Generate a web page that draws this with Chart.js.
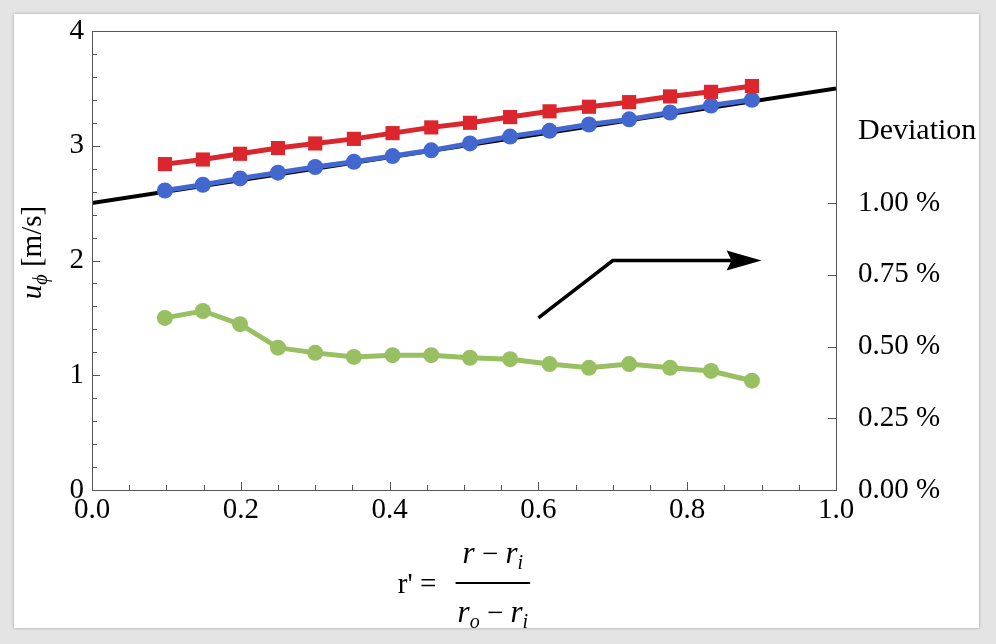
<!DOCTYPE html>
<html>
<head>
<meta charset="utf-8">
<script src="https://cdn.jsdelivr.net/npm/chart.js@4.4.0/dist/chart.umd.min.js"></script>
<style>
  html, body { margin: 0; padding: 0; background: #e4e4e4; width: 996px; height: 644px; overflow: hidden; }
  #panel { position: absolute; left: 14px; top: 14px; width: 965px; height: 614px; background: #fff; box-shadow: 0 0 3px rgba(0,0,0,0.3); }
  #panel canvas { display: block; }
</style>
</head>
<body>
<div id="panel"><canvas id="chart" width="965" height="614"></canvas></div>
<script>
// data
const rPrime = [0.098, 0.149, 0.199, 0.250, 0.300, 0.352, 0.404, 0.456, 0.508, 0.562, 0.615, 0.668, 0.722, 0.777, 0.832, 0.887];
const uRed = [2.84, 2.88, 2.93, 2.98, 3.02, 3.06, 3.11, 3.16, 3.20, 3.25, 3.30, 3.34, 3.38, 3.43, 3.47, 3.52];
const uBlue = [2.61, 2.66, 2.715, 2.765, 2.815, 2.86, 2.91, 2.96, 3.02, 3.08, 3.13, 3.185, 3.23, 3.29, 3.35, 3.40];
const deviation = [0.600, 0.624, 0.578, 0.496, 0.478, 0.464, 0.470, 0.470, 0.461, 0.456, 0.439, 0.426, 0.439, 0.426, 0.415, 0.381];
const analyticX = [0, 1];
const analyticU = [2.5, 3.5];
const devTicks = [0, 0.25, 0.5, 0.75, 1.0];
const arrowX = [0.6, 0.7, 0.9];
const arrowY = [1.5, 2.0, 2.0];

const SERIF = '"Liberation Serif", "Times New Roman", serif';
const FRAME = '#555';

function pts(xs, ys) {
    return xs.map((x, i) => ({ x: x, y: ys[i] }));
}

// draw a run of text pieces (font + vertical shift), returns width
function drawRuns(ctx, runs, x, y, measureOnly) {
    let cx = x;
    runs.forEach(r => {
        ctx.font = r.font;
        if (!measureOnly) ctx.fillText(r.t, cx, y + (r.dy || 0));
        cx += ctx.measureText(r.t).width;
    });
    return cx - x;
}

// keep tick label overhang from pushing the plot area around
function fixWidth(w) {
    return s => {
        s.width = w;
        s.paddingTop = 0;
        s.paddingBottom = 0;
    };
}

// frame, inward tick marks, arrow
const framePlugin = {
    id: 'framePlugin',
    afterDatasetsDraw(chart) {
        const { ctx, chartArea: a, scales } = chart;
        ctx.save();
        ctx.strokeStyle = FRAME;
        ctx.lineWidth = 1;
        ctx.strokeRect(Math.round(a.left) + 0.5, Math.round(a.top) + 0.5, Math.round(a.right - a.left), Math.round(a.bottom - a.top));

        ctx.beginPath();
        scales.y.ticks.forEach(t => {
            const py = Math.round(scales.y.getPixelForValue(t.value)) + 0.5;
            const len = Math.abs(t.value - Math.round(t.value)) < 1e-6 ? 8 : 5;
            ctx.moveTo(a.left, py); ctx.lineTo(a.left + len, py);
        });
        scales.x.ticks.forEach(t => {
            const px = Math.round(scales.x.getPixelForValue(t.value)) + 0.5;
            const len = Math.abs(t.value * 5 - Math.round(t.value * 5)) < 1e-6 ? 8 : 5;
            ctx.moveTo(px, a.bottom); ctx.lineTo(px, a.bottom - len);
        });
        scales.y2.ticks.forEach(t => {
            const py = Math.round(scales.y2.getPixelForValue(t.value)) + 0.5;
            ctx.moveTo(a.right, py); ctx.lineTo(a.right - 8, py);
        });
        ctx.stroke();

        // arrow pointing to the deviation axis
        const ax = arrowX.map(v => scales.x.getPixelForValue(v));
        const ay = arrowY.map(v => scales.y.getPixelForValue(v));
        const n = ax.length - 1;
        const headLen = 35, headHalf = 10, notch = 5;
        ctx.strokeStyle = '#000';
        ctx.lineWidth = 3.5;
        ctx.lineJoin = 'miter';
        ctx.beginPath();
        ctx.moveTo(ax[0], ay[0]);
        for (let i = 1; i < n; i++) ctx.lineTo(ax[i], ay[i]);
        ctx.lineTo(ax[n] - headLen + notch, ay[n]);
        ctx.stroke();
        ctx.fillStyle = '#000';
        ctx.beginPath();
        ctx.moveTo(ax[n], ay[n]);
        ctx.lineTo(ax[n] - headLen, ay[n] - headHalf);
        ctx.lineTo(ax[n] - headLen + notch, ay[n]);
        ctx.lineTo(ax[n] - headLen, ay[n] + headHalf);
        ctx.closePath();
        ctx.fill();
        ctx.restore();
    },
    afterDraw(chart) {
        const { ctx, chartArea: a } = chart;
        ctx.save();
        ctx.fillStyle = '#000';
        ctx.textBaseline = 'alphabetic';
        ctx.textAlign = 'left';

        // right axis heading
        ctx.font = '30px ' + SERIF;
        ctx.fillText('Deviation', a.right + 22, a.top + 108);

        // y axis title, rotated
        const yRuns = [
            { t: 'u', font: 'italic 29px ' + SERIF },
            { t: '\u03d5', font: 'italic 20px ' + SERIF, dy: 6 },
            { t: ' [m/s]', font: '29px ' + SERIF }
        ];
        const yw = drawRuns(ctx, yRuns, 0, 0, true);
        ctx.save();
        ctx.translate(a.left - 51, (a.top + a.bottom) / 2 - 8);
        ctx.rotate(-Math.PI / 2);
        drawRuns(ctx, yRuns, -yw / 2, 0);
        ctx.restore();

        // x axis title: r' = (r - r_i) / (r_o - r_i)
        const it = 'italic 31px ' + SERIF;
        const sub = 'italic 20px ' + SERIF;
        const rm = '29px ' + SERIF;
        const lhs = [{ t: "r' = ", font: rm }];
        const num = [{ t: 'r', font: it }, { t: ' \u2212 ', font: rm }, { t: 'r', font: it }, { t: 'i', font: sub, dy: 6 }];
        const den = [{ t: 'r', font: it }, { t: 'o', font: sub, dy: 6 }, { t: ' \u2212 ', font: rm }, { t: 'r', font: it }, { t: 'i', font: sub, dy: 6 }];
        const lw = drawRuns(ctx, lhs, 0, 0, true);
        const nw = drawRuns(ctx, num, 0, 0, true);
        const dw = drawRuns(ctx, den, 0, 0, true);
        const barW = Math.max(nw, dw) + 4;
        const total = lw + 12 + barW;
        const x0 = (a.left + a.right) / 2 - total / 2;
        const barY = a.bottom + 93;
        drawRuns(ctx, lhs, x0, barY + 10);
        const bx = x0 + lw + 12;
        ctx.fillRect(bx, barY - 1, barW, 2);
        drawRuns(ctx, num, bx + (barW - nw) / 2, barY - 20);
        drawRuns(ctx, den, bx + (barW - dw) / 2, barY + 39);
        ctx.restore();
    }
};

const tickFont = { family: SERIF, size: 29, lineHeight: 1 };

const ctx = document.getElementById('chart').getContext('2d');
new Chart(ctx, {
    type: 'line',
    data: {
        datasets: [
            {
                label: 'deviation',
                data: pts(rPrime, deviation),
                yAxisID: 'y2',
                borderColor: '#98bf62',
                backgroundColor: '#98bf62',
                borderWidth: 5,
                pointRadius: 8,
                pointStyle: 'circle',
                pointBorderWidth: 0
            },
            {
                label: 'red',
                data: pts(rPrime, uRed),
                yAxisID: 'y',
                borderColor: '#da262c',
                backgroundColor: '#da262c',
                borderWidth: 5,
                pointRadius: 10,
                pointStyle: 'rect',
                pointBorderWidth: 0
            },
            {
                label: 'blue',
                data: pts(rPrime, uBlue),
                yAxisID: 'y',
                borderColor: '#4267cf',
                backgroundColor: '#4267cf',
                borderWidth: 5,
                pointRadius: 8,
                pointStyle: 'circle',
                pointBorderWidth: 0
            },
            {
                label: 'analytic',
                data: pts(analyticX, analyticU),
                yAxisID: 'y',
                borderColor: '#000',
                borderWidth: 4,
                pointRadius: 0
            }
        ]
    },
    options: {
        responsive: false,
        animation: false,
        events: [],
        layout: { padding: { top: 17, left: 0, right: 0, bottom: 0 } },
        plugins: { legend: { display: false }, tooltip: { enabled: false } },
        elements: { line: { tension: 0 } },
        scales: {
            x: {
                type: 'linear',
                min: 0, max: 1,
                grid: { display: false, drawTicks: false },
                border: { display: false },
                afterFit: s => { s.height = 138; },
                ticks: {
                    stepSize: 0.05,
                    autoSkip: false,
                    maxRotation: 0,
                    padding: 6,
                    color: '#000',
                    font: tickFont,
                    callback: v => Math.abs(v * 5 - Math.round(v * 5)) < 1e-6 ? v.toFixed(1) : ''
                }
            },
            y: {
                type: 'linear',
                position: 'left',
                min: 0, max: 4,
                grid: { display: false, drawTicks: false },
                border: { display: false },
                afterFit: fixWidth(78),
                ticks: {
                    stepSize: 0.2,
                    autoSkip: false,
                    padding: 8,
                    color: '#000',
                    font: tickFont,
                    callback: v => Math.abs(v - Math.round(v)) < 1e-6 ? String(Math.round(v)) : ''
                }
            },
            y2: {
                type: 'linear',
                position: 'right',
                min: 0, max: 1.6,
                grid: { display: false, drawTicks: false },
                border: { display: false },
                afterFit: fixWidth(143),
                afterBuildTicks: s => { s.ticks = devTicks.map(v => ({ value: v })); },
                ticks: {
                    autoSkip: false,
                    padding: 22,
                    color: '#000',
                    font: tickFont,
                    callback: v => v.toFixed(2) + ' %'
                }
            }
        }
    },
    plugins: [framePlugin]
});
</script>
</body>
</html>
